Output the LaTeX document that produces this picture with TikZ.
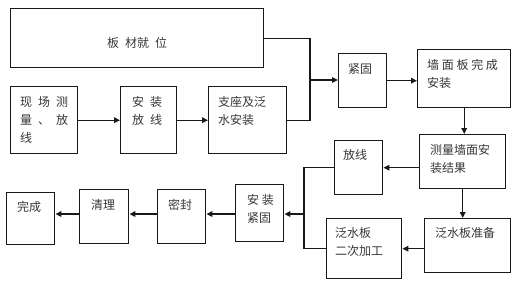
\documentclass[tikz,border=0pt]{standalone}
\usepackage{fontspec}
\newfontfamily\cjk{Noto Sans CJK SC}
\usetikzlibrary{arrows.meta,positioning,calc}
\definecolor{linecol}{RGB}{25,25,25}
\definecolor{txtcol}{RGB}{55,55,55}

\begin{document}
\begin{tikzpicture}[x=1pt,y=-1pt,
    every node/.style={font=\cjk\fontsize{12}{18}\selectfont, text=txtcol},
    box/.style={draw=linecol, line width=1.4pt, anchor=north west, inner sep=0pt},
    txt/.style={anchor=north west, inner sep=0pt, align=left},
    ln/.style={draw=linecol, line width=1.4pt},
    arr/.style={ln, -{Triangle[length=6pt,width=5.5pt]}}]
  \useasboundingbox[fill=white] (0,0) rectangle (529,282);

  % boxes
  \node[box, minimum width=253pt, minimum height=59pt] (bcjw) at (10,8) {};
  \node[box, minimum width=67pt, minimum height=67pt] (xc) at (10,86) {};
  \node[box, minimum width=56pt, minimum height=67pt] (az) at (120,86) {};
  \node[box, minimum width=78pt, minimum height=67pt] (zzfs) at (208,86) {};
  \node[box, minimum width=48pt, minimum height=54pt] (jg) at (338,53) {};
  \node[box, minimum width=93pt, minimum height=58pt] (qm) at (417,49) {};
  \node[box, minimum width=86pt, minimum height=54pt] (cl) at (419,134) {};
  \node[box, minimum width=48pt, minimum height=54pt] (fx) at (334,140) {};
  \node[box, minimum width=86pt, minimum height=54pt] (fb) at (424,218) {};
  \node[box, minimum width=75pt, minimum height=60pt] (ej) at (326,218) {};
  \node[box, minimum width=48pt, minimum height=57pt] (azjg) at (235,184) {};
  \node[box, minimum width=48pt, minimum height=54pt] (mf) at (157,189) {};
  \node[box, minimum width=49pt, minimum height=54pt] (ql) at (79,189) {};
  \node[box, minimum width=48pt, minimum height=52pt] (wc) at (6,192) {};

  % texts
  \node[txt, anchor=north] (bcjw-t) at (137,37) {板\enspace 材就\enspace 位};
  \node[txt] (xc-t) at (20,96) {现\enspace 场\enspace 测\\量\enspace 、\enspace 放\\线};
  \node[txt] (az-t) at (132,96) {安\enspace 装\\放\enspace 线};
  \node[txt] (zzfs-t) at (218,96) {支座及泛\\水安装};
  \node[txt] (jg-t) at (348,63) {紧固};
  \node[txt] (qm-t) at (427,59) {墙 面 板 完 成\\安装};
  \node[txt] (cl-t) at (430,144) {测量墙面安\\装结果};
  \node[txt] (fx-t) at (343,149) {放线};
  \node[txt] (fb-t) at (435,227) {泛水板准备};
  \node[txt] (ej-t) at (335,227) {泛水板\\二次加工};
  \node[txt] (azjg-t) at (247,194) {安 装\\紧固};
  \node[txt] (mf-t) at (168,199) {密封};
  \node[txt] (ql-t) at (91,199) {清理};
  \node[txt] (wc-t) at (17,201) {完成};

  % connectors
  \coordinate (mg) at (310,80);
  \coordinate (mg2) at (304,214);
  \draw[arr] (xc.east) -- (az.west);
  \draw[arr] (az.east) -- (zzfs.west);
  \draw[ln] (bcjw.east) -| (mg) |- (zzfs.east);
  \draw[arr] (mg) -- (mg -| jg.west);
  \draw[arr] (jg.east) -- (jg.east -| qm.west);
  \draw[arr] (qm.south) -- (qm.south |- cl.north);
  \draw[arr] (cl.west |- fx.east) -- (fx.east);
  \draw[arr] (cl.south) -- (cl.south |- fb.north);
  \draw[arr] (fb.west |- ej.east) -- (ej.east);
  \draw[ln] (fx.west) -| (mg2) |- (ej.west);
  \draw[arr] (mg2) -- (mg2 -| azjg.east);
  \draw[arr] (azjg.west |- mg2) -- (mg2 -| mf.east);
  \draw[arr] (mf.west |- mg2) -- (mg2 -| ql.east);
  \draw[arr] (ql.west |- mg2) -- (mg2 -| wc.east);
\end{tikzpicture}
\end{document}
